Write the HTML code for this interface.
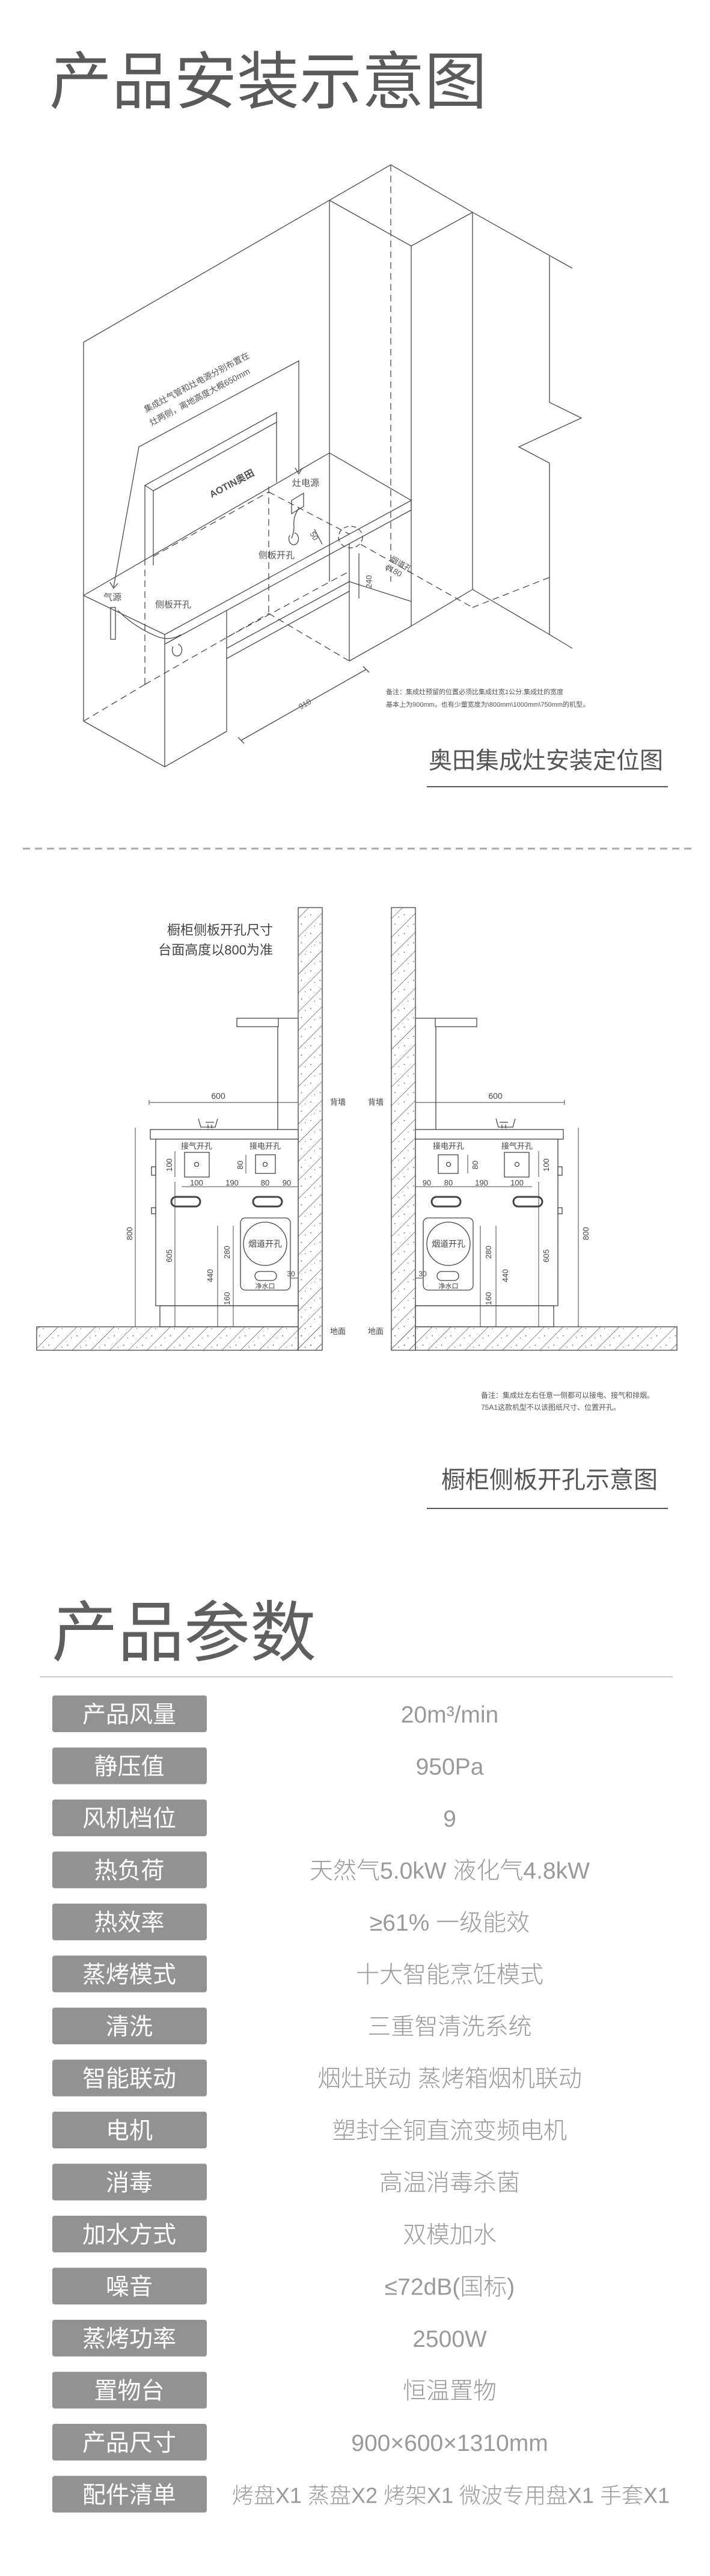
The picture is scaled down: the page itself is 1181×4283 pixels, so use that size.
<!DOCTYPE html>
<html><head><meta charset="utf-8"><style>
html,body{margin:0;padding:0;background:#fff}
svg{display:block}
text{font-family:"Liberation Sans","Noto Sans CJK SC",sans-serif}
</style></head><body>
<svg width="1181" height="4283" viewBox="0 0 1181 4283" xmlns="http://www.w3.org/2000/svg">
<defs>
<pattern id="hatch" width="22" height="22" patternUnits="userSpaceOnUse" patternTransform="rotate(45)">
<line x1="0" y1="0" x2="0" y2="22" stroke="#444" stroke-width="1.2"/>
<circle cx="11" cy="6" r="0.9" fill="#555"/><circle cx="7" cy="15" r="0.7" fill="#555"/>
</pattern>
</defs>
<rect width="1181" height="4283" fill="#fff"/>

<!-- Title 1 -->
<text x="82" y="172" font-size="104" fill="#5a5a5a" font-family="'Noto Sans CJK SC',sans-serif">产品安装示意图</text>

<!-- Isometric drawing -->
<g stroke="#4a4a4a" stroke-width="1.3" fill="none">
<polyline points="139,1199 139,569 650,274 786,353 952,446"/>
<polyline points="548,333 684,409 786,353"/>
<line x1="548" y1="333" x2="548" y2="967"/>
<line x1="684" y1="409" x2="684" y2="1041"/>
<line x1="786" y1="353" x2="786" y2="980"/>
<polyline points="914,426 914,669 967,695 863,743 914,770 914,1055 952,1078"/>
<line x1="786" y1="980" x2="914" y2="1055"/>
<line x1="684" y1="1041" x2="786" y2="980"/>
<!-- counter -->
<polyline points="139,990 274,1055 684,832 548,753"/>
<line x1="139" y1="990" x2="548" y2="753"/>
<line x1="274" y1="1071" x2="684" y2="848"/>
<line x1="684" y1="832" x2="684" y2="848"/>
<line x1="274" y1="1055" x2="274" y2="1275"/>
<line x1="139" y1="1199" x2="274" y2="1275"/>
<line x1="274" y1="1275" x2="377" y2="1216"/>
<line x1="377" y1="1015" x2="377" y2="1216"/>
<line x1="581" y1="904" x2="581" y2="1099"/>
<line x1="377" y1="1078" x2="581" y2="967"/>
<line x1="377" y1="1095" x2="581" y2="983"/>
<line x1="581" y1="1099" x2="684" y2="1041"/>
<line x1="581" y1="967" x2="684" y2="1000"/>
<!-- hood panel -->
<polyline points="241,929 241,807 460,686 460,802"/>
<polyline points="241,807 255,816 255,940"/>
<line x1="255" y1="816" x2="460" y2="702"/>
<text x="352" y="828" font-size="16" font-weight="bold" fill="#555" stroke="none" transform="rotate(-28 352 828)">AOTIN奥田</text>
<!-- annotation -->
<polyline points="189,976 231,743 497,600 497,785"/>
<polyline points="183,968 189,978 196,970"/>
<polyline points="491,778 497,788 503,778"/>
<!-- socket -->
<polygon points="485,832 505,820 505,842 485,854"/>
<path d="M497,845 q-10,15 -8,30 q0,10 -4,20"/>
<path d="M482,890 a8,10 0 1,0 8,-4"/>
<path d="M196,1015 q30,30 70,45 q20,5 35,-5"/>
<path d="M288,1075 a8,10 0 1,0 8,-4"/>
<rect x="184" y="1010" width="8" height="53"/>
<ellipse cx="583" cy="893" rx="20" ry="18" stroke-dasharray="8 5"/>
<line x1="597" y1="920" x2="597" y2="995"/>
<line x1="523" y1="880" x2="536" y2="905"/>
<!-- dashed -->
<g stroke-dasharray="11 7">
<line x1="650" y1="274" x2="650" y2="967"/>
<line x1="139" y1="1199" x2="241" y2="1138"/>
<line x1="241" y1="1138" x2="241" y2="929"/>
<line x1="241" y1="1138" x2="447" y2="1020"/>
<line x1="447" y1="1020" x2="581" y2="1099"/>
<line x1="447" y1="809" x2="447" y2="1020"/>
<line x1="255" y1="925" x2="447" y2="818"/>
<line x1="447" y1="818" x2="581" y2="888"/>
<line x1="377" y1="1060" x2="581" y2="950"/>
<line x1="600" y1="905" x2="786" y2="1010"/>
<line x1="786" y1="1010" x2="914" y2="960"/>
</g>
<!-- 910 dim -->
<line x1="401" y1="1231" x2="609" y2="1113"/>
<line x1="396" y1="1226" x2="406" y2="1236"/><line x1="604" y1="1108" x2="614" y2="1118"/>
</g>
<g fill="#555" font-size="13">
<text x="243" y="686" font-size="14" transform="rotate(-28 243 686)">集成灶气管和灶电源分别布置在</text>
<text x="252" y="708" font-size="14" transform="rotate(-28 252 708)">灶两侧，离地高度大概650mm</text>
<text x="486" y="808" font-size="15">灶电源</text>
<text x="430" y="928" font-size="15">侧板开孔</text>
<text x="172" y="998" font-size="15">气源</text>
<text x="258" y="1010" font-size="15">侧板开孔</text>
<text x="500" y="1180" transform="rotate(-30 500 1180)">910</text>
<text x="618" y="978" transform="rotate(-90 618 978)">240</text>
<text x="515" y="887" transform="rotate(60 515 887)">50</text>
<text x="648" y="932" transform="rotate(30 648 932)">烟道孔</text>
<text x="640" y="945" transform="rotate(30 640 945)">ϕ180</text>
<text x="642" y="1154" font-size="11">备注：集成灶预留的位置必须比集成灶宽1公分.集成灶的宽度</text>
<text x="642" y="1175" font-size="11">基本上为900mm，也有少量宽度为\800mm\1000mm\750mm的机型。</text>
</g>
<text x="713" y="1278" font-size="39" fill="#555" font-family="'Noto Sans CJK SC',sans-serif">奥田集成灶安装定位图</text>
<line x1="710" y1="1308" x2="1111" y2="1308" stroke="#555" stroke-width="2"/>
<line x1="38" y1="1411" x2="1150" y2="1411" stroke="#aaa" stroke-width="3" stroke-dasharray="12 8"/>

<!-- Section 2 -->
<g fill="#444" font-size="22">
<text x="454" y="1554" text-anchor="end">橱柜侧板开孔尺寸</text>
<text x="454" y="1587" text-anchor="end">台面高度以800为准</text>
</g>
<!-- walls & floor -->
<g stroke="#444" stroke-width="1.3">
<rect x="496" y="1509" width="40" height="736" fill="url(#hatch)"/>
<rect x="61" y="2206" width="435" height="39" fill="url(#hatch)"/>
<rect x="651" y="1509" width="40" height="736" fill="url(#hatch)"/>
<rect x="691" y="2206" width="435" height="39" fill="url(#hatch)"/>
</g>
<rect x="497" y="2207" width="38" height="37" fill="url(#hatch)"/>
<rect x="652" y="2207" width="38" height="37" fill="url(#hatch)"/>
<g id="cab" stroke="#444" stroke-width="1.3" fill="none">
<rect x="250" y="1878" width="246" height="16" fill="#fff"/>
<rect x="259" y="1894" width="237" height="277" fill="#fff"/>
<rect x="266" y="2171" width="230" height="35"/>
<rect x="394" y="1693" width="69" height="14"/>
<line x1="463" y1="1693" x2="496" y2="1693"/>
<line x1="462" y1="1707" x2="462" y2="1878"/>
<path d="M330,1860 l4,14 h24 l4,-14 M342,1866 h14 M346,1870 v6 M352,1870 v6" />
<rect x="252" y="1940" width="7" height="14"/><rect x="252" y="2008" width="7" height="10"/>
<rect x="307" y="1916" width="41" height="41"/><circle cx="327" cy="1936" r="3.5"/>
<rect x="425" y="1920" width="33" height="31"/><circle cx="441" cy="1936" r="3.5"/>
<rect x="285" y="1990" width="48" height="16" rx="8" stroke-width="3"/>
<rect x="421" y="1990" width="48" height="16" rx="8" stroke-width="3"/>
<rect x="400" y="2025" width="83" height="120" rx="8" fill="#fff"/>
<circle cx="441" cy="2068" r="36"/>
<rect x="424" y="2114" width="36" height="15" rx="7.5"/>
<g stroke-width="1">
<line x1="248" y1="1833" x2="496" y2="1833"/>
<line x1="248" y1="1829" x2="248" y2="1837"/>
<line x1="302" y1="1973" x2="496" y2="1973"/>
<line x1="225" y1="1875" x2="225" y2="2206"/>
<line x1="291" y1="1914" x2="291" y2="1957"/>
<line x1="291" y1="1965" x2="291" y2="2206"/>
<line x1="362" y1="2038" x2="362" y2="2206"/>
<line x1="388" y1="2038" x2="388" y2="2206"/>
<line x1="409" y1="1920" x2="409" y2="1951"/>
<line x1="483" y1="2125" x2="496" y2="2125"/>
</g>
</g>
<use href="#cab" transform="translate(1187,0) scale(-1,1)"/>
<g fill="#444" font-size="13" text-anchor="middle">
<text x="562" y="1837">背墙</text><text x="625" y="1837">背墙</text>
<text x="562" y="2218">地面</text><text x="625" y="2218">地面</text>
<text x="363" y="1827" font-size="14">600</text><text x="824" y="1827" font-size="14">600</text>
<text x="327" y="1910">接气开孔</text><text x="441" y="1910">接电开孔</text>
<text x="746" y="1910">接电开孔</text><text x="860" y="1910">接气开孔</text>
<text x="327" y="1971">100</text><text x="386" y="1971">190</text><text x="441" y="1971">80</text><text x="477" y="1971">90</text>
<text x="710" y="1971">90</text><text x="746" y="1971">80</text><text x="801" y="1971">190</text><text x="860" y="1971">100</text>
<text x="441" y="2073" font-size="14">烟道开孔</text><text x="746" y="2073" font-size="14">烟道开孔</text>
<text x="441" y="2142" font-size="11">净水口</text><text x="746" y="2142" font-size="11">净水口</text>
<text x="484" y="2122" font-size="12">30</text><text x="703" y="2122" font-size="12">30</text>
<text transform="translate(220,2051) rotate(-90)">800</text>
<text transform="translate(286,2088) rotate(-90)">605</text>
<text transform="translate(354,2121) rotate(-90)">440</text>
<text transform="translate(382,2082) rotate(-90)">280</text>
<text transform="translate(382,2159) rotate(-90)">160</text>
<text transform="translate(286,1937) rotate(-90)">100</text>
<text transform="translate(404,1937) rotate(-90)">80</text>
<text transform="translate(979,2051) rotate(-90)">800</text>
<text transform="translate(913,2088) rotate(-90)">605</text>
<text transform="translate(845,2121) rotate(-90)">440</text>
<text transform="translate(817,2082) rotate(-90)">280</text>
<text transform="translate(817,2159) rotate(-90)">160</text>
<text transform="translate(913,1937) rotate(-90)">100</text>
<text transform="translate(795,1937) rotate(-90)">80</text>
</g>
<g fill="#555" font-size="12">
<text x="800" y="2324">备注：集成灶左右任意一侧都可以接电、接气和排烟。</text>
<text x="800" y="2344">75A1这款机型不以该图纸尺寸、位置开孔。</text>
</g>
<text x="734" y="2474" font-size="40" fill="#555" font-family="'Noto Sans CJK SC',sans-serif">橱柜侧板开孔示意图</text>
<line x1="710" y1="2508" x2="1111" y2="2508" stroke="#555" stroke-width="2"/>

<!-- Section 3 -->
<text x="86" y="2753" font-size="110" fill="#5f5f5f" font-family="'Noto Sans CJK SC',sans-serif">产品参数</text>
<line x1="67" y1="2788" x2="1119" y2="2788" stroke="#ccc" stroke-width="2"/>
<g font-family="'Noto Sans CJK SC',sans-serif" font-size="39" text-anchor="middle">
<g fill="#929292">
<rect x="87" y="2819" width="257" height="61" rx="4"/>
<rect x="87" y="2905.5" width="257" height="61" rx="4"/>
<rect x="87" y="2992" width="257" height="61" rx="4"/>
<rect x="87" y="3078.5" width="257" height="61" rx="4"/>
<rect x="87" y="3165" width="257" height="61" rx="4"/>
<rect x="87" y="3251.5" width="257" height="61" rx="4"/>
<rect x="87" y="3338" width="257" height="61" rx="4"/>
<rect x="87" y="3424.5" width="257" height="61" rx="4"/>
<rect x="87" y="3511" width="257" height="61" rx="4"/>
<rect x="87" y="3597.5" width="257" height="61" rx="4"/>
<rect x="87" y="3684" width="257" height="61" rx="4"/>
<rect x="87" y="3770.5" width="257" height="61" rx="4"/>
<rect x="87" y="3857" width="257" height="61" rx="4"/>
<rect x="87" y="3943.5" width="257" height="61" rx="4"/>
<rect x="87" y="4030" width="257" height="61" rx="4"/>
<rect x="87" y="4116.5" width="257" height="61" rx="4"/>
</g>
<g fill="#fff">
<text x="215" y="2864">产品风量</text>
<text x="215" y="2950.5">静压值</text>
<text x="215" y="3037">风机档位</text>
<text x="215" y="3123.5">热负荷</text>
<text x="215" y="3210">热效率</text>
<text x="215" y="3296.5">蒸烤模式</text>
<text x="215" y="3383">清洗</text>
<text x="215" y="3469.5">智能联动</text>
<text x="215" y="3556">电机</text>
<text x="215" y="3642.5">消毒</text>
<text x="215" y="3729">加水方式</text>
<text x="215" y="3815.5">噪音</text>
<text x="215" y="3902">蒸烤功率</text>
<text x="215" y="3988.5">置物台</text>
<text x="215" y="4075">产品尺寸</text>
<text x="215" y="4161.5">配件清单</text>
</g>
<g fill="#9a9a9a" font-weight="300">
<text x="748" y="2864">20m³/min</text>
<text x="748" y="2950.5">950Pa</text>
<text x="748" y="3037">9</text>
<text x="748" y="3123.5">天然气5.0kW 液化气4.8kW</text>
<text x="748" y="3210">≥61%  一级能效</text>
<text x="748" y="3296.5">十大智能烹饪模式</text>
<text x="748" y="3383">三重智清洗系统</text>
<text x="748" y="3469.5">烟灶联动 蒸烤箱烟机联动</text>
<text x="748" y="3556">塑封全铜直流变频电机</text>
<text x="748" y="3642.5">高温消毒杀菌</text>
<text x="748" y="3729">双模加水</text>
<text x="748" y="3815.5">≤72dB(国标)</text>
<text x="748" y="3902">2500W</text>
<text x="748" y="3988.5">恒温置物</text>
<text x="748" y="4075">900×600×1310mm</text>
<text x="750" y="4161.5" font-size="36">烤盘X1 蒸盘X2 烤架X1 微波专用盘X1 手套X1</text>
</g>
</g>
</svg>
</body></html>
